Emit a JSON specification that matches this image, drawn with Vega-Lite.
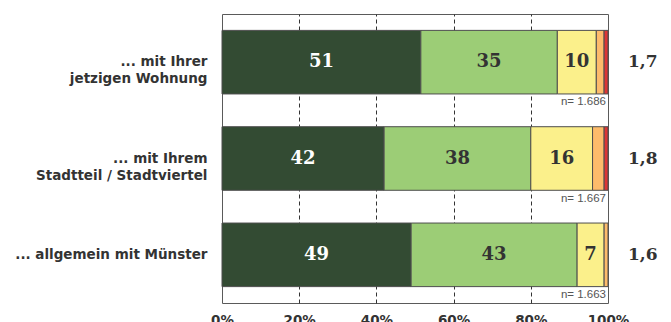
{
  "$schema": "https://vega.github.io/schema/vega-lite/v6.json",
  "width": 386,
  "height": 289,
  "autosize": {"type": "none"},
  "padding": {"left": 222, "top": 14, "right": 63, "bottom": 19},
  "background": "white",
  "config": {
    "view": {"stroke": "#5a5a5a", "strokeWidth": 1},
    "font": "DejaVu Sans"
  },
  "datasets": {
    "anteile": [
      {"cat": "... mit Ihrer|jetzigen Wohnung", "stufe": 1, "pct": 51},
      {"cat": "... mit Ihrer|jetzigen Wohnung", "stufe": 2, "pct": 35},
      {"cat": "... mit Ihrer|jetzigen Wohnung", "stufe": 3, "pct": 10},
      {"cat": "... mit Ihrer|jetzigen Wohnung", "stufe": 4, "pct": 2},
      {"cat": "... mit Ihrer|jetzigen Wohnung", "stufe": 5, "pct": 1},
      {"cat": "... mit Ihrem|Stadtteil / Stadtviertel", "stufe": 1, "pct": 42},
      {"cat": "... mit Ihrem|Stadtteil / Stadtviertel", "stufe": 2, "pct": 38},
      {"cat": "... mit Ihrem|Stadtteil / Stadtviertel", "stufe": 3, "pct": 16},
      {"cat": "... mit Ihrem|Stadtteil / Stadtviertel", "stufe": 4, "pct": 3},
      {"cat": "... mit Ihrem|Stadtteil / Stadtviertel", "stufe": 5, "pct": 1},
      {"cat": "... allgemein mit Münster", "stufe": 1, "pct": 49},
      {"cat": "... allgemein mit Münster", "stufe": 2, "pct": 43},
      {"cat": "... allgemein mit Münster", "stufe": 3, "pct": 7},
      {"cat": "... allgemein mit Münster", "stufe": 4, "pct": 1}
    ],
    "kennwerte": [
      {"cat": "... mit Ihrer|jetzigen Wohnung", "mittel": "1,7", "n": "n= 1.686"},
      {"cat": "... mit Ihrem|Stadtteil / Stadtviertel", "mittel": "1,8", "n": "n= 1.667"},
      {"cat": "... allgemein mit Münster", "mittel": "1,6", "n": "n= 1.663"}
    ]
  },
  "layer": [
    {
      "data": {"name": "anteile"},
      "transform": [
        {"stack": "pct", "groupby": ["cat"], "sort": [{"field": "stufe", "order": "ascending"}], "offset": "normalize", "as": ["x0", "x1"]}
      ],
      "mark": {"type": "bar", "stroke": "#4d4d4d", "strokeWidth": 1},
      "encoding": {
        "y": {
          "field": "cat",
          "type": "nominal",
          "scale": {
            "domain": ["... mit Ihrer|jetzigen Wohnung", "... mit Ihrem|Stadtteil / Stadtviertel", "... allgemein mit Münster"],
            "paddingInner": 0.34,
            "paddingOuter": 0.17
          },
          "axis": {
            "title": null,
            "domain": false,
            "ticks": false,
            "labelPadding": 15,
            "labelFont": "DejaVu Sans",
            "labelFontWeight": "bold",
            "labelFontSize": 13.5,
            "labelColor": "#333333",
            "labelLineHeight": 17,
            "labelLimit": 300,
            "labelExpr": "split(datum.label, '|')"
          }
        },
        "x": {
          "field": "x0",
          "type": "quantitative",
          "scale": {"domain": [0, 1], "nice": false},
          "axis": {
            "title": null,
            "values": [0, 0.2, 0.4, 0.6, 0.8, 1],
            "format": ".0%",
            "domain": false,
            "ticks": false,
            "grid": true,
            "gridDash": [4, 3],
            "gridColor": "#333333",
            "gridWidth": 1,
            "gridOpacity": {"condition": {"test": "datum.value == 0 || datum.value == 1", "value": 0}, "value": 1},
            "labelFlush": false,
            "labelPadding": 10,
            "labelFont": "DejaVu Sans",
            "labelFontWeight": "bold",
            "labelFontSize": 13.5,
            "labelColor": "#333333"
          }
        },
        "x2": {"field": "x1"},
        "color": {
          "field": "stufe",
          "type": "ordinal",
          "scale": {"domain": [1, 2, 3, 4, 5], "range": ["#334b33", "#9ccd76", "#fbf08b", "#fdbb6b", "#dd3535"]},
          "legend": null
        }
      }
    },
    {
      "data": {"name": "anteile"},
      "transform": [
        {"stack": "pct", "groupby": ["cat"], "sort": [{"field": "stufe", "order": "ascending"}], "offset": "normalize", "as": ["x0", "x1"]},
        {"filter": "datum.pct >= 5"},
        {"calculate": "(datum.x0 + datum.x1) / 2", "as": "xmid"}
      ],
      "mark": {"type": "text", "font": "DejaVu Serif", "fontWeight": "bold", "fontSize": 18, "baseline": "middle", "align": "center"},
      "encoding": {
        "y": {"field": "cat", "type": "nominal"},
        "x": {"field": "xmid", "type": "quantitative"},
        "text": {"field": "pct", "type": "quantitative"},
        "color": {"condition": {"test": "datum.stufe == 1", "value": "white"}, "value": "#333333"}
      }
    },
    {
      "data": {"name": "kennwerte"},
      "mark": {"type": "text", "font": "Liberation Sans", "fontSize": 11.5, "color": "#555555", "align": "right", "baseline": "middle", "dx": -2, "dy": 40},
      "encoding": {
        "y": {"field": "cat", "type": "nominal"},
        "x": {"datum": 1, "type": "quantitative"},
        "text": {"field": "n"}
      }
    },
    {
      "data": {"name": "kennwerte"},
      "mark": {"type": "text", "font": "DejaVu Serif", "fontWeight": "bold", "fontSize": 17, "color": "#333333", "align": "left", "baseline": "middle", "dx": 20},
      "encoding": {
        "y": {"field": "cat", "type": "nominal"},
        "x": {"datum": 1, "type": "quantitative"},
        "text": {"field": "mittel"}
      }
    }
  ]
}
